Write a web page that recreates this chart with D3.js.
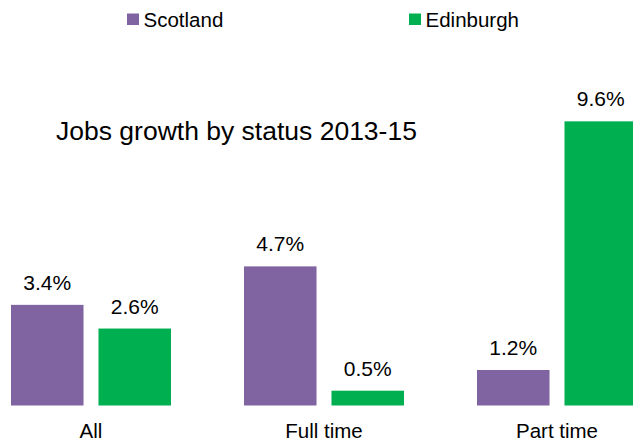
<!DOCTYPE html>
<html>
<head>
<meta charset="utf-8">
<script src="https://cdn.jsdelivr.net/npm/d3@7/dist/d3.min.js"></script>
<style>
  html, body { margin: 0; padding: 0; background: #fff; }
  svg { display: block; font-family: "Liberation Sans", Arial, sans-serif; }
</style>
</head>
<body>
<svg id="chart" width="633" height="444"></svg>
<script>
// Jobs growth by employment status, 2013-15 (%)
const categories = ["All", "Full time", "Part time"];
const seriesNames = ["Scotland", "Edinburgh"];
const scotland = [3.4, 4.7, 1.2];
const edinburgh = [2.6, 0.5, 9.6];
const colors = ["#8064A2", "#00B050"];
const chartTitle = "Jobs growth by status 2013-15";

const svg = d3.select("#chart");

const baseline = 405.5;
const y = d3.scaleLinear().domain([0, 10]).range([baseline, baseline - 296]);

// category bands: one group per status, 233px apart
const x0 = d3.scaleBand().domain(categories).range([-25.5, 673.5]).padding(0);
const groupWidth = 160;
const x1 = d3.scaleBand().domain(seriesNames).range([0, groupWidth]).paddingInner(0.171).paddingOuter(0);

const rows = categories.map((c, i) => ({
  cat: c,
  vals: [{ s: seriesNames[0], v: scotland[i] }, { s: seriesNames[1], v: edinburgh[i] }]
}));

const color = d3.scaleOrdinal().domain(seriesNames).range(colors);

const groups = svg.append("g").selectAll("g")
  .data(rows).join("g")
  .attr("transform", d => `translate(${x0(d.cat) + (x0.bandwidth() - groupWidth) / 2},0)`);

groups.selectAll("rect")
  .data(d => d.vals).join("rect")
  .attr("x", d => x1(d.s))
  .attr("width", x1.bandwidth())
  .attr("y", d => y(d.v))
  .attr("height", d => baseline - y(d.v))
  .attr("fill", d => color(d.s));

groups.selectAll("text.val")
  .data(d => d.vals).join("text")
  .attr("class", "val")
  .attr("x", d => x1(d.s) + x1.bandwidth() / 2)
  .attr("y", d => y(d.v) - 15)
  .attr("text-anchor", "middle")
  .attr("font-size", 21)
  .attr("fill", "#000")
  .text(d => d.v.toFixed(1) + "%");

// category axis labels (no axis line drawn)
const xAxis = d3.axisBottom(x0).tickSize(0).tickPadding(0);
const axisG = svg.append("g").attr("transform", `translate(0,${baseline})`).call(xAxis);
axisG.select(".domain").remove();
axisG.selectAll("text")
  .attr("font-size", 20.5)
  .attr("font-family", "Liberation Sans, Arial, sans-serif")
  .attr("fill", "#000")
  .attr("dy", null)
  .attr("y", 32.5);

// title
svg.append("text")
  .attr("x", 56)
  .attr("y", 139.5)
  .attr("font-size", 26.5)
  .attr("fill", "#000")
  .text(chartTitle);

// legend
const legendX = [127, 409];
const legend = svg.append("g").selectAll("g")
  .data(seriesNames).join("g")
  .attr("transform", (d, i) => `translate(${legendX[i]},0)`);
legend.append("rect")
  .attr("x", 0).attr("y", 13.5).attr("width", 12).attr("height", 11.5)
  .attr("fill", d => color(d));
legend.append("text")
  .attr("x", 16.5)
  .attr("y", 27)
  .attr("font-size", 20.5)
  .attr("fill", "#000")
  .text(d => d);
</script>
</body>
</html>
